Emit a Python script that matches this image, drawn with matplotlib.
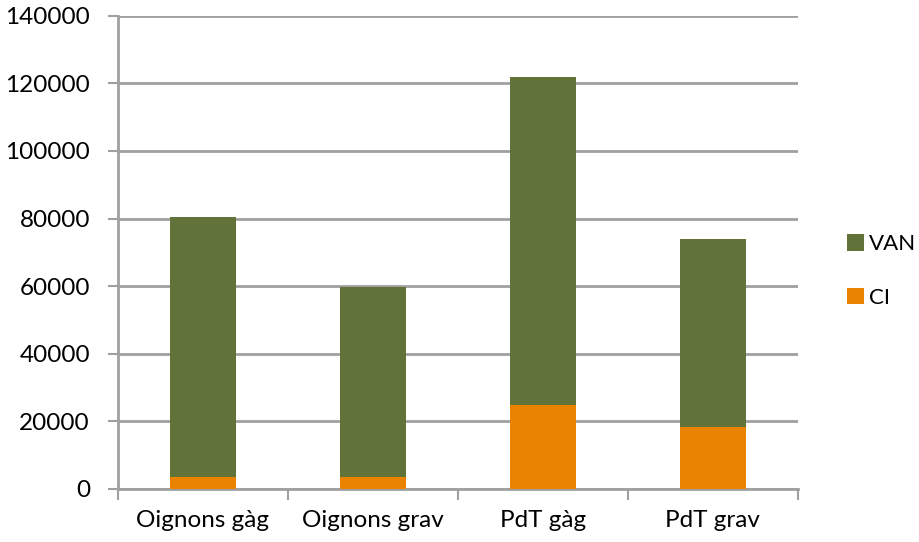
import matplotlib
matplotlib.use('Agg')
import matplotlib.pyplot as plt
import numpy as np

categories = ['Oignons gàg', 'Oignons grav', 'PdT gàg', 'PdT grav']
ci = [3600, 3600, 24800, 18400]
van = [76700, 56200, 97000, 55400]

green = '#62733A'
orange = '#E98300'
grid_col = '#A0A0A0'

plt.rcParams['font.family'] = ['Lato', 'DejaVu Sans']

fig = plt.figure(figsize=(9.2, 5.42), dpi=100)
ax = fig.add_axes([0.128, 0.098, 0.739, 0.873])

x = np.arange(len(categories))
ax.bar(x, ci, width=0.39, color=orange, label='CI', zorder=3)
ax.bar(x, van, width=0.39, bottom=ci, color=green, label='VAN', zorder=3)

ax.set_xlim(-0.5, len(categories) - 0.5)
ax.set_ylim(0, 140000)
ax.set_yticks(np.arange(0, 140001, 20000))
ax.tick_params(axis='y', labelsize=17.5, length=7, width=1.5, color=grid_col, pad=13)
ax.yaxis.grid(True, color=grid_col, linewidth=2, zorder=0)

ax.set_xticks(np.arange(-0.5, len(categories)), minor=False)
ax.set_xticklabels([])
ax.set_xticks(x, minor=True)
ax.set_xticklabels(categories, minor=True)
ax.tick_params(axis='x', which='major', length=8, width=1.5, color=grid_col)
ax.tick_params(axis='x', which='minor', length=0, labelsize=17.5, pad=15)

for s in ['top', 'right']:
    ax.spines[s].set_visible(False)
for s in ['left', 'bottom']:
    ax.spines[s].set_color(grid_col)
    ax.spines[s].set_linewidth(2)

h, l = ax.get_legend_handles_labels()
fig.legend(h[::-1], l[::-1], loc='center left', bbox_to_anchor=(0.899, 0.5),
           frameon=False, fontsize=16, handlelength=0.75, handleheight=0.75,
           handletextpad=0.25, labelspacing=1.5)

fig.savefig('out.png', dpi=100)
